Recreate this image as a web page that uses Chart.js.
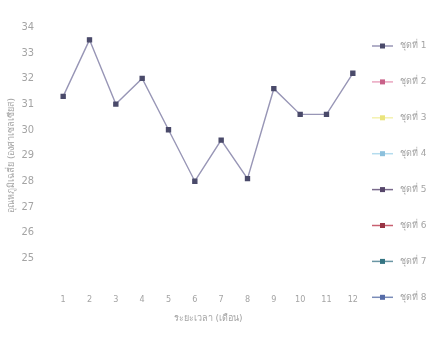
<!DOCTYPE html>
<html>
<head>
  <meta charset="utf-8">
  <title>อุณหภูมิเฉลี่ยรายเดือน</title>
  <script src="https://cdn.jsdelivr.net/npm/chart.js"></script>
  <style>
    body {
      margin: 0;
      background-color: #ffffff;
    }
    #wrap {
      width: 448px;
      height: 337px;
    }
  </style>
</head>
<body>
  <div id="wrap"><canvas id="chart"></canvas></div>
  <script>
    // months along the x axis
    const months = ['1', '2', '3', '4', '5', '6', '7', '8', '9', '10', '11', '12'];
    // y axis ticks
    const yTicks = [25, 26, 27, 28, 29, 30, 31, 32, 33, 34];
    // series names shown in the legend
    const seriesNames = ['ชุดที่ 1', 'ชุดที่ 2', 'ชุดที่ 3', 'ชุดที่ 4', 'ชุดที่ 5', 'ชุดที่ 6', 'ชุดที่ 7', 'ชุดที่ 8'];
    // only the first set is plotted
    const set1 = [31.3, 33.5, 31.0, 32.0, 30.0, 28.0, 29.6, 28.1, 31.6, 30.6, 30.6, 32.2];

    const lineColors = ['#9896b6', '#eaa6c0', '#f4f2b0', '#b4dcee', '#7a6a8c', '#c86070', '#6a96a4', '#7a8cb8'];
    const markColors = ['#4a4a6a', '#c86088', '#eae47c', '#8cc0dc', '#56466a', '#983444', '#347482', '#566ca8'];

    const textColor = '#a4a4a4';
    const font = 'DejaVu Sans, sans-serif';
    const narrow = '"Liberation Sans Narrow", "DejaVu Sans Condensed", sans-serif';

    // legend drawn at the right, Excel style: short line with a marker in the middle
    const sideLegend = {
      id: 'sideLegend',
      afterDraw(chart) {
        const ctx = chart.ctx;
        const x0 = 372, x1 = 393, top = 46, step = 35.9;
        ctx.save();
        chart.data.datasets.forEach((ds, i) => {
          const y = top + i * step;
          ctx.strokeStyle = ds.borderColor;
          ctx.lineWidth = 1.5;
          ctx.beginPath();
          ctx.moveTo(x0, y);
          ctx.lineTo(x1, y);
          ctx.stroke();
          ctx.fillStyle = ds.pointBackgroundColor;
          ctx.fillRect((x0 + x1) / 2 - 2.5, y - 2.5, 5, 5);
          ctx.fillStyle = textColor;
          ctx.font = '9px ' + font;
          ctx.textBaseline = 'middle';
          ctx.fillText(ds.label, 400, y);
        });
        ctx.restore();
      }
    };

    const datasets = seriesNames.map((name, i) => ({
      label: name,
      data: i === 0 ? set1 : [],
      borderColor: lineColors[i],
      backgroundColor: markColors[i],
      pointBackgroundColor: markColors[i],
      pointBorderColor: markColors[i],
      pointStyle: 'rect',
      pointRadius: 2.8,
      borderWidth: 1.4,
      tension: 0,
      fill: false
    }));

    new Chart(document.getElementById('chart'), {
      type: 'line',
      data: { labels: months, datasets: datasets },
      options: {
        responsive: true,
        maintainAspectRatio: false,
        animation: false,
        layout: { padding: { top: 27, right: 82, bottom: 0, left: 0 } },
        plugins: {
          legend: { display: false },
          tooltip: { enabled: false }
        },
        scales: {
          x: {
            offset: true,
            grid: { display: false },
            border: { display: false },
            ticks: { color: textColor, font: { size: 9, family: narrow }, padding: 2, maxRotation: 0 },
            title: {
              display: true,
              text: 'ระยะเวลา (เดือน)',
              color: textColor,
              font: { size: 9, family: font },
              padding: { top: 4, bottom: 13 }
            },
            afterFit: s => { s.height = 53; }
          },
          y: {
            min: 24,
            max: 34,
            grid: { display: false },
            border: { display: false },
            afterBuildTicks: s => { s.ticks = [24].concat(yTicks).map(v => ({ value: v })); },
            ticks: {
              color: textColor,
              font: { size: 11, family: narrow },
              padding: 8,
              callback: v => (v === 24 ? '' : v)
            },
            title: {
              display: true,
              text: 'อุณหภูมิเฉลี่ย (องศาเซลเซียส)',
              color: textColor,
              font: { size: 9, family: font },
              padding: { top: 6, bottom: 0 }
            },
            afterFit: s => { s.width = 50; }
          }
        }
      },
      plugins: [sideLegend]
    });
  </script>
</body>
</html>
